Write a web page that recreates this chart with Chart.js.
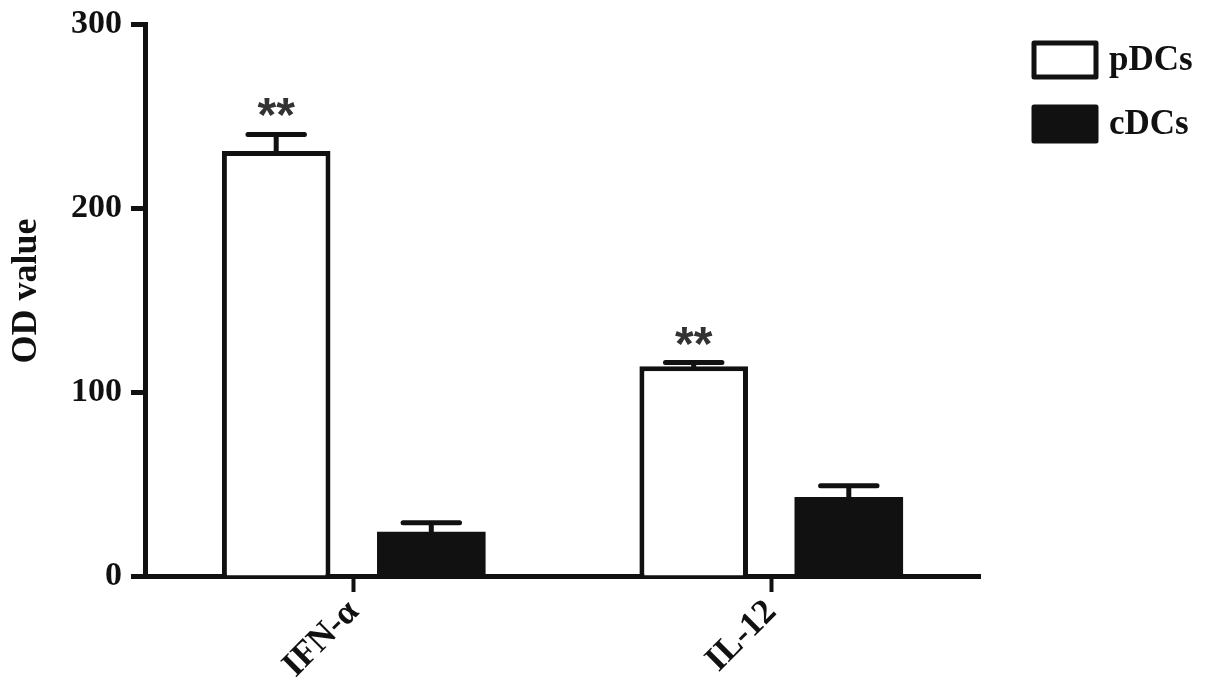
<!DOCTYPE html>
<html lang="en">
    <head>
        <meta charset="UTF-8">
        <style>
            body {
                margin: 0;
                background-color: #ffffff;
            }
            #chart-container {
                position: absolute;
                top: 0;
                left: 0;
                width: 1205px;
                height: 691px;
            }
        </style>
        <title>OD value - pDCs vs cDCs</title>
    </head>
    <body>
        <div id="chart-container">
            <canvas id="myChart" width="1205" height="691"></canvas>
        </div>
        <script src="https://cdn.jsdelivr.net/npm/chart.js"></script>
        <script>
            //data

            let categories = ['IFN-\u03b1', 'IL-12'];

            let pdcValues = [231, 114];             //pDCs mean
            let pdcErrors = [9, 2];                 //pDCs error (upper whisker)

            let cdcValues = [24, 43];               //cDCs mean
            let cdcErrors = [5, 6];                 //cDCs error

            let significance = ['**', '**'];        //marks over the pDCs bars

            let yTicks = [0, 100, 200, 300];

            let ink = '#111111';

            Chart.defaults.font.family = "'Liberation Serif', 'Times New Roman', serif";
            Chart.defaults.font.weight = 'bold';
            Chart.defaults.color = ink;

            //error bars + significance stars, positioned from the bar elements and y scale
            const errorBars = {
                id: 'errorBars',
                afterDatasetsDraw(chart) {
                    const ctx = chart.ctx;
                    const yScale = chart.scales.y;
                    ctx.save();
                    chart.data.datasets.forEach((ds, di) => {
                        const meta = chart.getDatasetMeta(di);
                        meta.data.forEach((bar, i) => {
                            const top = yScale.getPixelForValue(ds.data[i] + ds.errors[i]);
                            const capHalf = bar.width * 0.26;
                            ctx.strokeStyle = ink;
                            ctx.lineWidth = 5;
                            ctx.lineCap = 'round';
                            ctx.beginPath();
                            ctx.moveTo(bar.x, bar.y);
                            ctx.lineTo(bar.x, top);
                            ctx.moveTo(bar.x - capHalf, top);
                            ctx.lineTo(bar.x + capHalf, top);
                            ctx.stroke();
                            if (ds.marks && ds.marks[i]) {
                                ctx.fillStyle = '#333333';
                                ctx.font = "bold 48px 'Liberation Sans', Arial, sans-serif";
                                ctx.textAlign = 'center';
                                ctx.textBaseline = 'alphabetic';
                                ctx.fillText(ds.marks[i], bar.x, top - 3);
                            }
                        });
                    });
                    ctx.restore();
                }
            };

            //legend on the right, boxes styled like the datasets
            const sideLegend = {
                id: 'sideLegend',
                afterDraw(chart) {
                    const ctx = chart.ctx;
                    ctx.save();
                    chart.data.datasets.forEach((ds, i) => {
                        const x = 1034, y = 43 + i * 64, w = 62, h = 34;
                        ctx.fillStyle = ds.backgroundColor;
                        ctx.fillRect(x, y, w, h);
                        ctx.strokeStyle = ink;
                        ctx.lineWidth = 5;
                        ctx.lineJoin = 'round';
                        ctx.strokeRect(x, y, w, h);
                        ctx.fillStyle = ink;
                        ctx.font = "bold 35px 'Liberation Serif', 'Times New Roman', serif";
                        ctx.textAlign = 'left';
                        ctx.textBaseline = 'middle';
                        ctx.fillText(ds.label, 1109, y + h / 2 + 1);
                    });
                    ctx.restore();
                }
            };

            const data = {
                labels: categories,
                datasets: [{
                    label: 'pDCs',
                    data: pdcValues,
                    errors: pdcErrors,
                    marks: significance,
                    backgroundColor: '#ffffff',
                    borderColor: ink,
                    borderWidth: 5
                }, {
                    label: 'cDCs',
                    data: cdcValues,
                    errors: cdcErrors,
                    backgroundColor: ink,
                    borderColor: ink,
                    borderWidth: 0
                }]
            };

            const config = {
                type: 'bar',
                data,
                options: {
                    responsive: false,
                    animation: false,
                    categoryPercentage: 0.743,
                    barPercentage: 0.70,
                    layout: {
                        padding: { left: 0, right: 225, top: 24, bottom: 0 }
                    },
                    scales: {
                        y: {
                            min: 0,
                            max: 300,
                            afterFit(scale) {
                                scale.width = 145;
                                scale.paddingTop = 0;           //let layout padding alone set the top
                            },
                            afterBuildTicks(scale) { scale.ticks = yTicks.map(v => ({ value: v })); },
                            border: { display: true, color: ink, width: 5 },
                            grid: {
                                drawOnChartArea: false,
                                drawTicks: true,
                                tickLength: 14,
                                tickWidth: 5,
                                tickColor: ink
                            },
                            ticks: {
                                padding: 9,
                                color: ink,
                                font: { size: 34, weight: 'bold' }
                            },
                            title: {
                                display: true,
                                text: '\u2002OD value',
                                color: ink,
                                padding: { top: 5, bottom: 0 },
                                font: { size: 36, weight: 'bold' }
                            }
                        },
                        x: {
                            afterFit(scale) { scale.height = 115; },
                            border: { display: true, color: ink, width: 5 },
                            grid: {
                                offset: false,
                                drawOnChartArea: false,
                                drawTicks: true,
                                tickLength: 16,
                                tickWidth: 4,
                                tickColor: ink
                            },
                            ticks: {
                                minRotation: 45,
                                maxRotation: 45,
                                padding: 0,
                                color: ink,
                                font: { size: 35, weight: 'bold' }
                            }
                        }
                    },
                    plugins: {
                        legend: { display: false },
                        tooltip: { enabled: false }
                    }
                },
                plugins: [errorBars, sideLegend]
            };

            const myChart = new Chart(
                document.getElementById('myChart'),
                config
            );
        </script>
    </body>
</html>
